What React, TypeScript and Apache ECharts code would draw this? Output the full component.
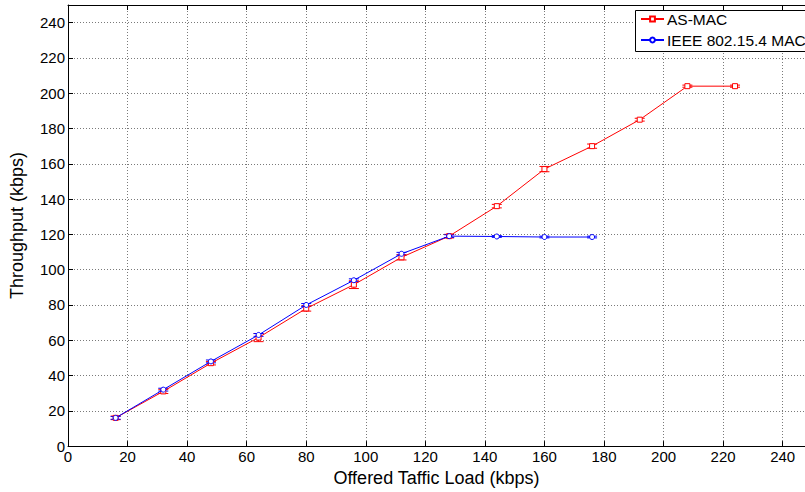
import React, { useEffect, useRef } from "react";
import * as echarts from "echarts";

const xAsMac = [16, 32, 48, 64, 80, 96, 112, 128, 144, 160, 176, 192, 208, 224];
const asMac = [16, 31, 47, 61.5, 78, 91.5, 107, 119, 136, 157, 170, 185, 204, 204];
const asMacErr = [1, 1.2, 1, 2.3, 1.5, 2.2, 1.5, 1, 1, 1.5, 1.2, 0.8, 0.6, 0.6];

const xIeee = [16, 32, 48, 64, 80, 96, 112, 128, 144, 160, 176];
const ieee = [16, 32, 48, 63, 80, 94, 109, 119, 118.8, 118.5, 118.5];
const ieeeErr = [0.8, 0.8, 0.8, 0.8, 0.8, 0.8, 0.8, 0.8, 0.5, 0.5, 0.5];

const FONT = "Liberation Sans, Arial, Helvetica, sans-serif";

function errData(xs: number[], ys: number[], es: number[]) {
  return xs.map((x, i) => [x, ys[i] - es[i], ys[i] + es[i]]);
}

function errSeries(name: string, color: string, data: number[][]) {
  return {
    type: "custom",
    name,
    z: 3,
    encode: { x: 0, y: [1, 2] },
    data,
    renderItem: (params: any, api: any) => {
      const x = api.value(0);
      const lo = api.coord([x, api.value(1)]);
      const hi = api.coord([x, api.value(2)]);
      const hw = 5;
      const st = { stroke: color, lineWidth: 1 };
      return {
        type: "group",
        children: [
          { type: "line", shape: { x1: lo[0], y1: lo[1], x2: hi[0], y2: hi[1] }, style: st },
          { type: "line", shape: { x1: lo[0] - hw, y1: lo[1], x2: lo[0] + hw, y2: lo[1] }, style: st },
          { type: "line", shape: { x1: hi[0] - hw, y1: hi[1], x2: hi[0] + hw, y2: hi[1] }, style: st },
        ],
      };
    },
  };
}

export default function App() {
  const ref = useRef<HTMLDivElement>(null);
  useEffect(() => {
    document.body.style.margin = "0";
    document.body.style.overflow = "hidden";
    document.documentElement.style.overflow = "hidden";
    if (!ref.current) return;
    const chart = echarts.init(ref.current, null, { renderer: "svg" });
    const gridLine = { show: true, lineStyle: { color: "#7a7a7a", type: [1, 2], width: 1 } };
    chart.setOption({
      animation: false,
      backgroundColor: "#ffffff",
      textStyle: { fontFamily: FONT },
      grid: { left: 64, top: 5, bottom: 43, right: 0, containLabel: false },
      graphic: [
        {
          type: "rect",
          z: 10,
          shape: { x: 635.5, y: 10.5, width: 200, height: 41 },
          style: { fill: "#ffffff", stroke: "#000000", lineWidth: 1 },
        },
      ],
      legend: {
        orient: "vertical",
        left: 640,
        top: 11,
        z: 20,
        padding: 0,
        itemGap: 5,
        itemWidth: 23,
        itemHeight: 6,
        textStyle: {
          fontSize: 15.5,
          lineHeight: 16,
          color: "#000",
          fontFamily: FONT,
          padding: [0, 0, 0, -2],
        },
        data: ["AS-MAC", "IEEE 802.15.4 MAC"],
      },
      xAxis: [
        {
          type: "value",
          min: 0,
          max: 247.5,
          interval: 20,
          name: "Offered Taffic Load (kbps)",
          nameLocation: "middle",
          nameGap: 20,
          nameTextStyle: { fontSize: 18, color: "#000", fontFamily: FONT },
          axisLine: { show: true, onZero: false, lineStyle: { color: "#000", width: 1 } },
          axisTick: { show: true, inside: true, length: 5, lineStyle: { color: "#000" } },
          axisLabel: { fontSize: 15, color: "#000", margin: 3, fontFamily: FONT, showMaxLabel: false },
          splitLine: gridLine,
        },
        {
          type: "value",
          position: "top",
          min: 0,
          max: 247.5,
          interval: 20,
          axisLine: { show: true, onZero: false, lineStyle: { color: "#000", width: 1 } },
          axisTick: { show: true, inside: true, length: 5, lineStyle: { color: "#000" } },
          axisLabel: { show: false },
          splitLine: { show: false },
        },
      ],
      yAxis: {
        type: "value",
        min: 0,
        max: 250,
        interval: 20,
        name: "Throughput (kbps)",
        nameLocation: "middle",
        nameGap: 42,
        nameTextStyle: { fontSize: 18, color: "#000", fontFamily: FONT },
        axisLine: { show: true, onZero: false, lineStyle: { color: "#000", width: 1 } },
        axisTick: { show: true, inside: true, length: 5, lineStyle: { color: "#000" } },
        axisLabel: { fontSize: 15, color: "#000", margin: 3, fontFamily: FONT, showMaxLabel: false },
        splitLine: gridLine,
      },
      series: [
        errSeries("AS-MAC err", "#ff0000", errData(xAsMac, asMac, asMacErr)),
        errSeries("IEEE err", "#0000ff", errData(xIeee, ieee, ieeeErr)),
        {
          type: "line",
          name: "AS-MAC",
          data: xAsMac.map((x, i) => [x, asMac[i]]),
          color: "#ff0000",
          lineStyle: { color: "#ff0000", width: 1 },
          symbol: "rect",
          symbolSize: 5,
          itemStyle: { color: "#ffffff", borderColor: "#ff0000", borderWidth: 1 },
          z: 4,
        },
        {
          type: "line",
          name: "IEEE 802.15.4 MAC",
          data: xIeee.map((x, i) => [x, ieee[i]]),
          color: "#0000ff",
          lineStyle: { color: "#0000ff", width: 1 },
          symbol: "circle",
          symbolSize: 5,
          itemStyle: { color: "#ffffff", borderColor: "#0000ff", borderWidth: 1 },
          z: 5,
        },
      ],
    });
    return () => chart.dispose();
  }, []);
  return (
    <div
      ref={ref}
      style={{ position: "absolute", left: 0, top: 0, width: 805, height: 492, overflow: "hidden" }}
    />
  );
}
